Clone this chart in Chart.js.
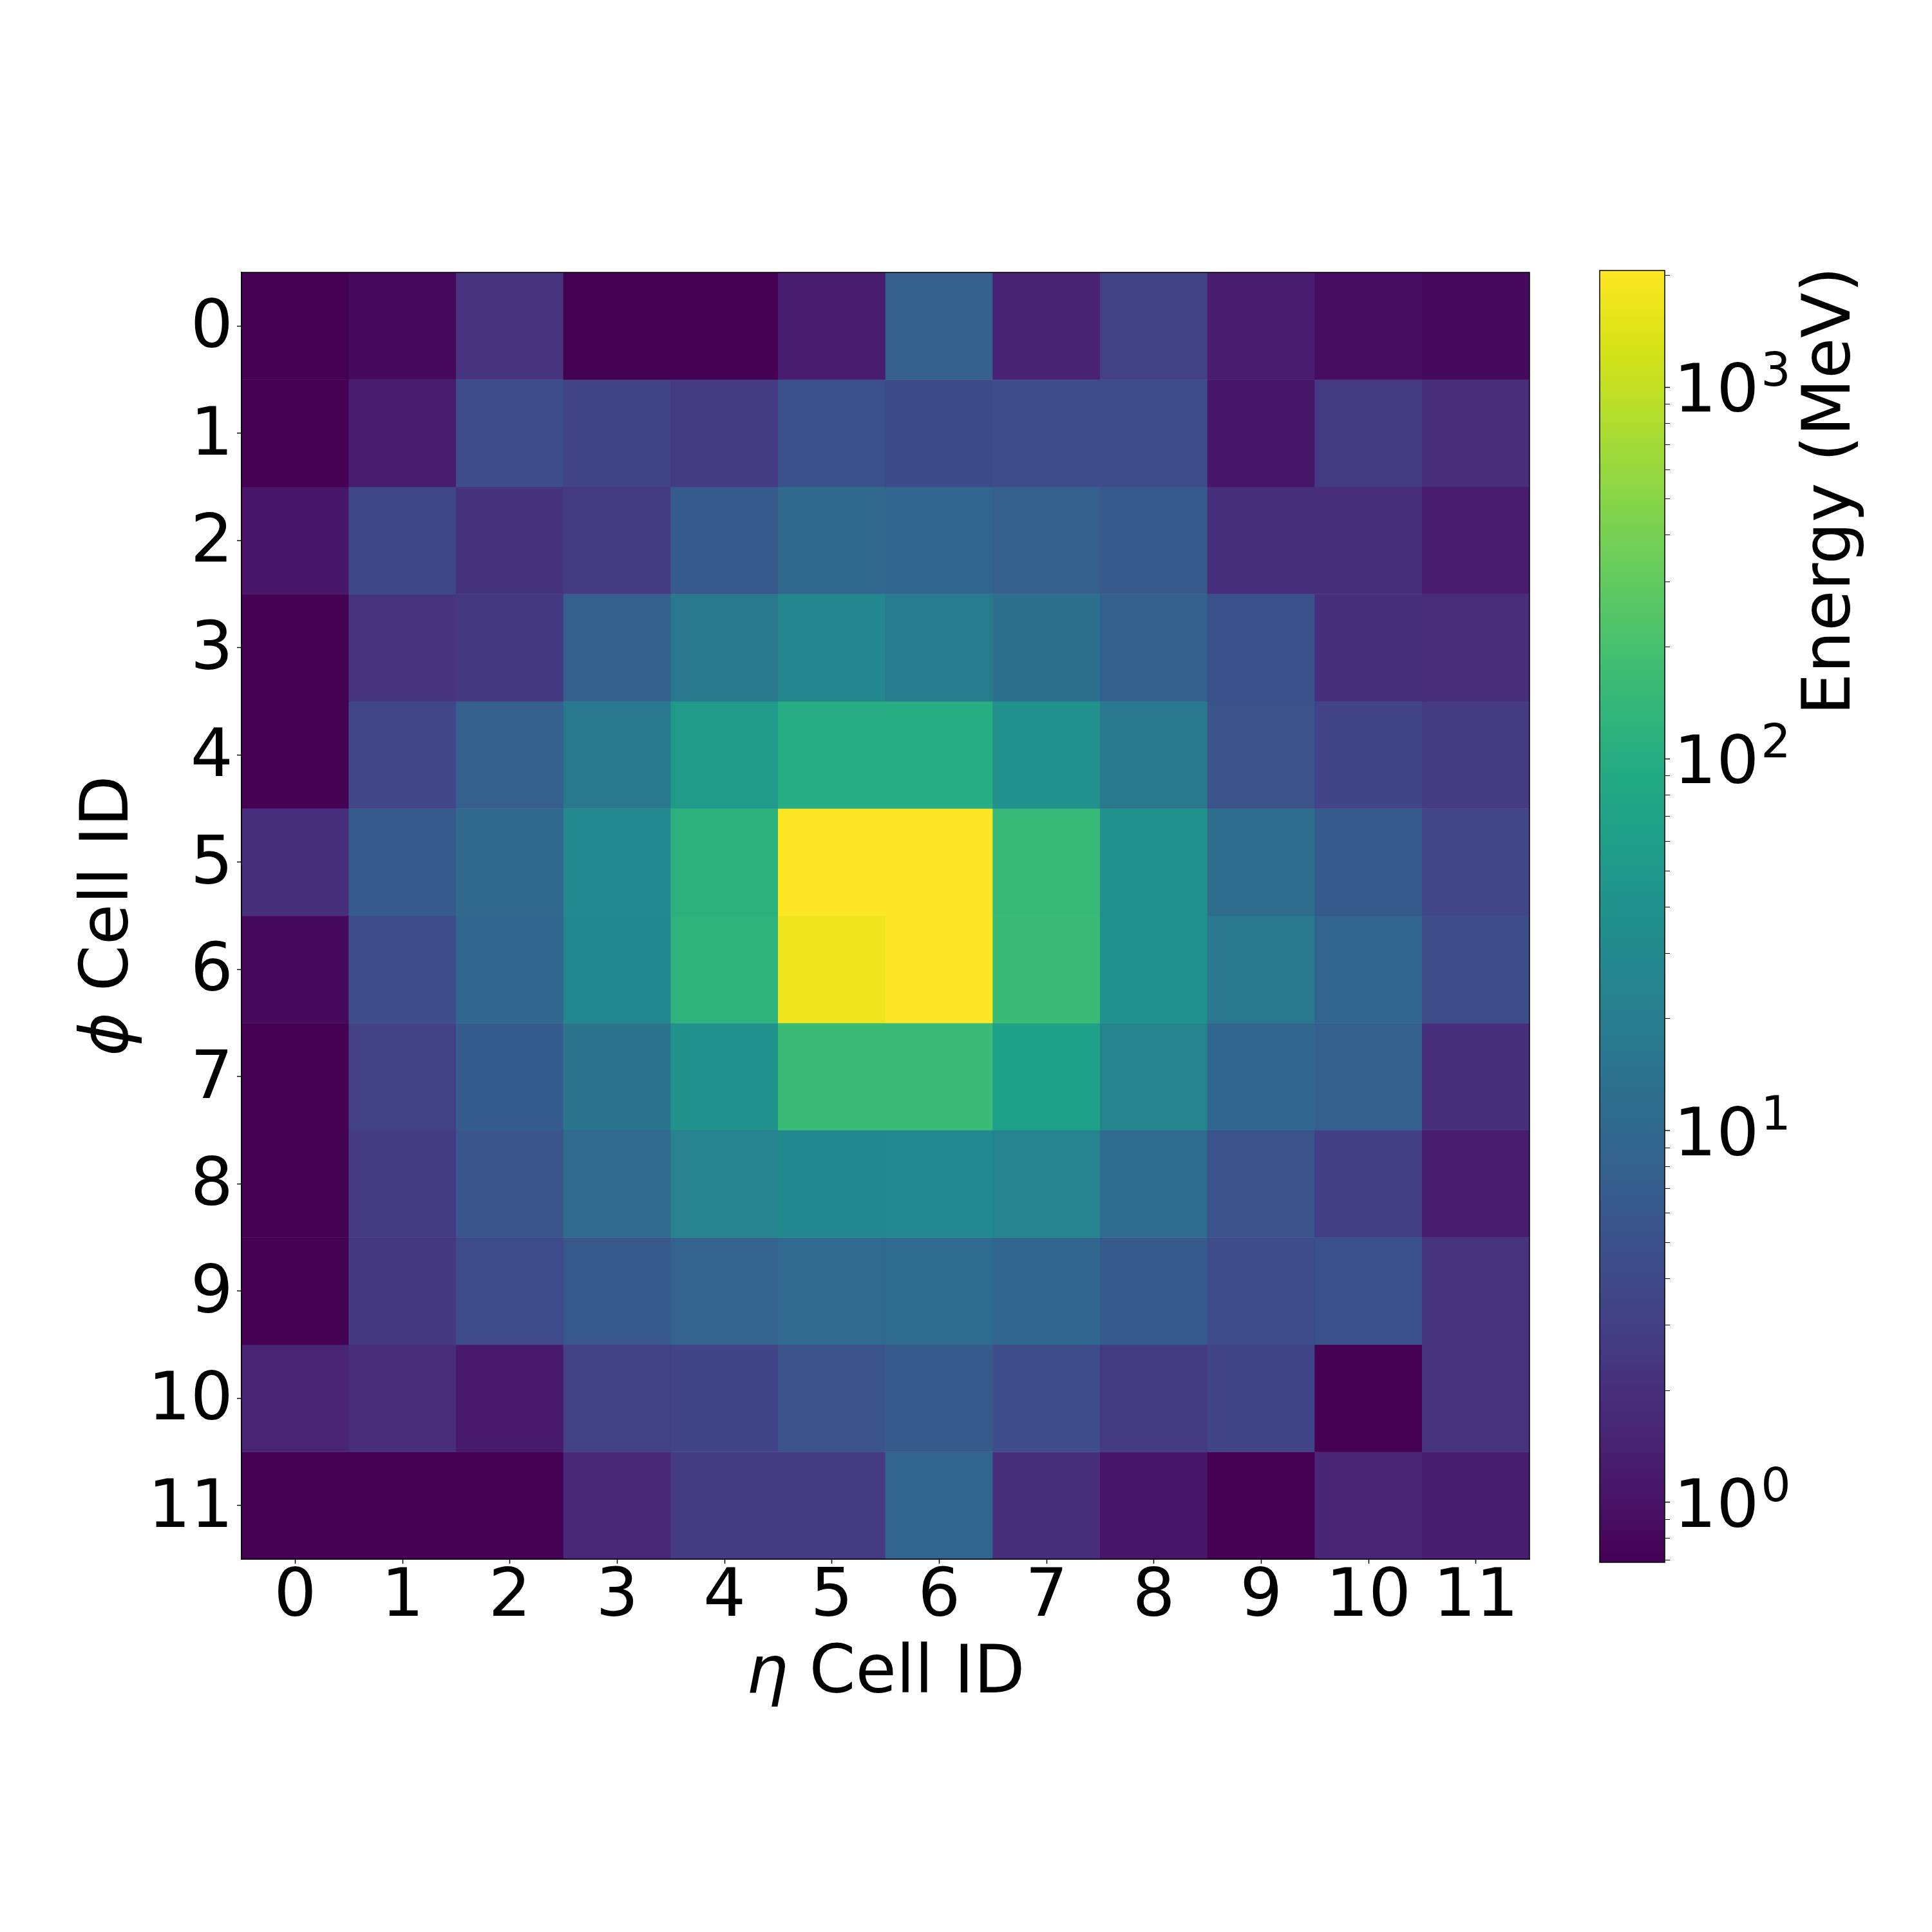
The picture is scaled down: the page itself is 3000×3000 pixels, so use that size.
<!DOCTYPE html>
<html>
<head>
<meta charset="utf-8">
<script src="https://cdn.jsdelivr.net/npm/chart.js@4.4.1/dist/chart.umd.min.js"></script>
<style>
html, body { margin: 0; padding: 0; background: #ffffff; }
#wrap { position: relative; width: 3000px; height: 3000px; background: #ffffff; }
canvas { position: absolute; left: 0; top: 0; }
</style>
</head>
<body>
<div id="wrap">
<canvas id="heat" width="3000" height="3000"></canvas>
<canvas id="cbar" width="3000" height="3000"></canvas>
</div>
<script>
// ---------------- data ----------------
const etaLabels = ['0','1','2','3','4','5','6','7','8','9','10','11'];
const phiTicks = [0,1,2,3,4,5,6,7,8,9,10,11];

// Energy (MeV) per eta cell, one array per phi row
const phi0  = [0.69, 0.85, 2.3, 0.69, 0.69, 1.3, 7.5, 1.5, 3.2, 1.3, 0.9, 0.85];
const phi1  = [0.69, 1.3, 4.5, 3.4, 2.6, 5.1, 4.0, 4.3, 4.5, 1.1, 2.6, 1.9];
const phi2  = [1.1, 3.8, 2.2, 2.7, 6.5, 10, 9.8, 7.6, 6.2, 2.0, 2.0, 1.3];
const phi3  = [0.69, 2.3, 2.5, 7.6, 17, 28, 18, 13, 7.6, 5.1, 2.0, 1.9];
const phi4  = [0.69, 3.7, 7.6, 17, 50, 100, 100, 38, 17, 5.4, 3.4, 2.8];
const phi5  = [2.0, 6.5, 10, 30, 115, 2060, 2060, 150, 38, 11.5, 6.5, 3.7];
const phi6  = [0.85, 4.5, 9.8, 29, 120, 1700, 2060, 160, 40, 17, 9.0, 4.5];
const phi7  = [0.69, 3.2, 6.8, 15, 40, 160, 160, 63, 25, 9.5, 7.6, 2.1];
const phi8  = [0.69, 2.8, 5.5, 10.5, 23, 29, 30, 25, 11, 5.4, 3.0, 1.3];
const phi9  = [0.69, 2.5, 4.2, 6.0, 8.3, 10.5, 11, 9.8, 6.5, 4.3, 5.0, 2.3];
const phi10 = [1.55, 1.9, 1.2, 3.2, 3.4, 5.3, 6.5, 4.6, 2.6, 3.4, 0.69, 2.3];
const phi11 = [0.69, 0.69, 0.69, 1.7, 2.8, 2.8, 9.2, 2.0, 1.1, 0.69, 1.6, 1.35];
const energyRows = [phi0, phi1, phi2, phi3, phi4, phi5, phi6, phi7, phi8, phi9, phi10, phi11];

// colour bar range and ticks
const cbMin = 0.69;
const cbMax = 2060;
const cbMajorTicks = [1, 10, 100, 1000];
const cbMinorTicks = [0.7, 0.8, 0.9, 2, 3, 4, 5, 6, 7, 8, 9, 20, 30, 40, 50, 60, 70, 80, 90,
                      200, 300, 400, 500, 600, 700, 800, 900, 2000];

// texts
const xTitleSymbol = 'η';
const yTitleSymbol = 'ϕ';
const axisTitleRest = ' Cell ID';
const cbTitle = 'Energy (MeV)';

// ---------------- style ----------------
const FAMILY = '"DejaVu Sans", "Liberation Sans", sans-serif';
const TICK_SIZE = 104;
const TITLE_SIZE = 103;

const VIR = "44015444025645045745055946075a46085c460a5d460b5e470d60470e6147106347116447136548146748166848176948186a481a6c481b6d481c6e481d6f481f70482071482173482374482475482576482677482878482979472a7a472c7a472d7b472e7c472f7d46307e46327e46337f463480453581453781453882443983443a83443b84433d84433e85423f854240864241864142874144874045884046883f47883f48893e49893e4a893e4c8a3d4d8a3d4e8a3c4f8a3c508b3b518b3b528b3a538b3a548c39558c39568c38588c38598c375a8c375b8d365c8d365d8d355e8d355f8d34608d34618d33628d33638d32648e32658e31668e31678e31688e30698e306a8e2f6b8e2f6c8e2e6d8e2e6e8e2e6f8e2d708e2d718e2c718e2c728e2c738e2b748e2b758e2a768e2a778e2a788e29798e297a8e297b8e287c8e287d8e277e8e277f8e27808e26818e26828e26828e25838e25848e25858e24868e24878e23888e23898e238a8d228b8d228c8d228d8d218e8d218f8d21908d21918c20928c20928c20938c1f948c1f958b1f968b1f978b1f988b1f998a1f9a8a1e9b8a1e9c891e9d891f9e891f9f881fa0881fa1881fa1871fa28720a38620a48621a58521a68522a78522a88423a98324aa8325ab8225ac8226ad8127ad8128ae8029af7f2ab07f2cb17e2db27d2eb37c2fb47c31b57b32b67a34b67935b77937b87838b9773aba763bbb753dbc743fbc7340bd7242be7144bf7046c06f48c16e4ac16d4cc26c4ec36b50c46a52c56954c56856c66758c7655ac8645cc8635ec96260ca6063cb5f65cb5e67cc5c69cd5b6ccd5a6ece5870cf5773d05675d05477d1537ad1517cd2507fd34e81d34d84d44b86d54989d5488bd6468ed64590d74393d74195d84098d83e9bd93c9dd93ba0da39a2da37a5db36a8db34aadc32addc30b0dd2fb2dd2db5de2bb8de29bade28bddf26c0df25c2df23c5e021c8e020cae11fcde11dd0e11cd2e21bd5e21ad8e219dae319dde318dfe318e2e418e5e419e7e419eae51aece51befe51cf1e51df4e61ef6e620f8e621fbe723fde725";
const virRGB = [];
for (let i = 0; i + 6 <= VIR.length; i += 6) {
  virRGB.push([parseInt(VIR.substr(i, 2), 16), parseInt(VIR.substr(i + 2, 2), 16), parseInt(VIR.substr(i + 4, 2), 16)]);
}
function viridis(t) {
  t = Math.max(0, Math.min(1, t));
  const n = virRGB.length;
  const c = virRGB[Math.min(n - 1, Math.floor(t * n))];
  return 'rgb(' + c[0] + ',' + c[1] + ',' + c[2] + ')';
}
const lMin = Math.log10(cbMin), lMax = Math.log10(cbMax);
function colorFor(v) {
  return viridis((Math.log10(v) - lMin) / (lMax - lMin));
}

function drawParts(ctx, parts, x, y, rotation, align) {
  ctx.save();
  ctx.translate(x, y);
  ctx.rotate(rotation);
  ctx.fillStyle = '#000';
  ctx.textBaseline = 'alphabetic';
  ctx.textAlign = 'left';
  let total = 0;
  const widths = parts.map(p => { ctx.font = p.font; const w = ctx.measureText(p.text).width; total += w; return w; });
  let cx = align === 'center' ? -total / 2 : (align === 'right' ? -total : 0);
  parts.forEach((p, i) => {
    ctx.font = p.font;
    ctx.fillText(p.text, cx + (p.dx || 0), p.dy || 0);
    cx += widths[i] + (p.dx || 0);
  });
  ctx.restore();
}

const italicFont = 'italic ' + TITLE_SIZE + 'px ' + FAMILY;
const normalFont = TITLE_SIZE + 'px ' + FAMILY;

const heatDecor = {
  id: 'heatDecor',
  afterDraw(chart) {
    const {ctx, chartArea: a} = chart;
    ctx.save();
    ctx.strokeStyle = '#000';
    ctx.lineWidth = 1.5;
    ctx.strokeRect(a.left, a.top, a.right - a.left, a.bottom - a.top);
    ctx.restore();
    drawParts(ctx, [{text: xTitleSymbol, font: italicFont}, {text: axisTitleRest, font: normalFont}],
      (a.left + a.right) / 2, a.bottom + 207, 0, 'center');
    drawParts(ctx, [{text: yTitleSymbol, font: italicFont}, {text: axisTitleRest, font: normalFont}],
      a.left - 177, (a.top + a.bottom) / 2, -Math.PI / 2, 'center');
  }
};

const axisGrid = {
  display: true, drawOnChartArea: false, drawTicks: true,
  tickLength: 7, tickWidth: 1.5, tickColor: '#000', offset: false
};
const tickFont = {family: FAMILY, size: TICK_SIZE, lineHeight: 1};

new Chart(document.getElementById('heat'), {
  type: 'bar',
  data: {
    labels: etaLabels,
    datasets: energyRows.map((row, r) => ({
      label: 'phi ' + phiTicks[r],
      data: row.map(() => [phiTicks[r] - 0.5, phiTicks[r] + 0.5]),
      backgroundColor: row.map(colorFor),
      borderWidth: 0,
      barPercentage: 1,
      categoryPercentage: 1,
      grouped: false
    }))
  },
  options: {
    responsive: false,
    animation: false,
    devicePixelRatio: 1,
    layout: {padding: {left: 0, top: 423, right: 625, bottom: 279}},
    plugins: {legend: {display: false}, tooltip: {enabled: false}, title: {display: false}},
    scales: {
      x: {
        type: 'category',
        offset: true,
        grid: axisGrid,
        border: {display: true, color: '#000', width: 1.5},
        ticks: {color: '#000', font: tickFont, padding: 1.5, maxRotation: 0, minRotation: 0, autoSkip: false},
        afterFit: s => { s.height = 300; }
      },
      y: {
        type: 'linear',
        reverse: true,
        min: -0.5,
        max: 11.5,
        grid: axisGrid,
        border: {display: true, color: '#000', width: 1.5},
        ticks: {color: '#000', font: tickFont, padding: 6, labelOffset: 6, autoSkip: false, callback: v => String(v)},
        afterBuildTicks: s => { s.ticks = phiTicks.map(v => ({value: v})); },
        afterFit: s => { s.width = 375; }
      }
    }
  },
  plugins: [heatDecor]
});

// ---------------- colour bar ----------------
const cbTicks = cbMinorTicks.concat(cbMajorTicks).sort((a, b) => a - b);
const supFont = Math.round(TICK_SIZE * 0.7) + 'px ' + FAMILY;
const baseFont = TICK_SIZE + 'px ' + FAMILY;

const cbDecor = {
  id: 'cbDecor',
  afterDraw(chart) {
    const {ctx, chartArea: a} = chart;
    const ys = chart.scales.y;
    ctx.save();
    const g = ctx.createLinearGradient(0, a.bottom, 0, a.top);
    const n = virRGB.length;
    for (let k = 0; k < n; k++) {
      const c = virRGB[k];
      g.addColorStop(k / (n - 1), 'rgb(' + c[0] + ',' + c[1] + ',' + c[2] + ')');
    }
    ctx.fillStyle = g;
    ctx.fillRect(a.left, a.top, a.right - a.left, a.bottom - a.top);
    ctx.strokeStyle = '#000';
    ctx.lineWidth = 1.5;
    ctx.strokeRect(a.left, a.top, a.right - a.left, a.bottom - a.top);
    ctx.restore();
    // major tick labels 10^n with a raised exponent
    cbMajorTicks.forEach(v => {
      const y = ys.getPixelForValue(v);
      const e = String(Math.round(Math.log10(v)));
      drawParts(ctx, [{text: '10', font: baseFont}, {text: e, font: supFont, dx: 3, dy: -40}],
        a.right + 14, y + 38, 0, 'left');
    });
    drawParts(ctx, [{text: cbTitle, font: normalFont}], a.right + 287, a.top - 6, -Math.PI / 2, 'right');
  }
};

new Chart(document.getElementById('cbar'), {
  type: 'scatter',
  data: {datasets: []},
  options: {
    responsive: false,
    animation: false,
    devicePixelRatio: 1,
    layout: {padding: {left: 2484, top: 420, right: 0, bottom: 574}},
    plugins: {legend: {display: false}, tooltip: {enabled: false}},
    scales: {
      x: {display: false},
      y: {
        type: 'logarithmic',
        position: 'right',
        min: cbMin,
        max: cbMax,
        grid: {display: true, drawOnChartArea: false, drawTicks: true, tickLength: 8, tickColor: '#000',
               tickWidth: c => (c.tick && c.tick.major ? 1.5 : 1)},
        border: {display: false},
        ticks: {autoSkip: false, color: '#000', font: tickFont, padding: 6, callback: () => ''},
        afterBuildTicks: s => { s.ticks = cbTicks.map(v => ({value: v, major: cbMajorTicks.includes(v)})); },
        afterFit: s => { s.width = 415; }
      }
    }
  },
  plugins: [cbDecor]
});
</script>
</body>
</html>
